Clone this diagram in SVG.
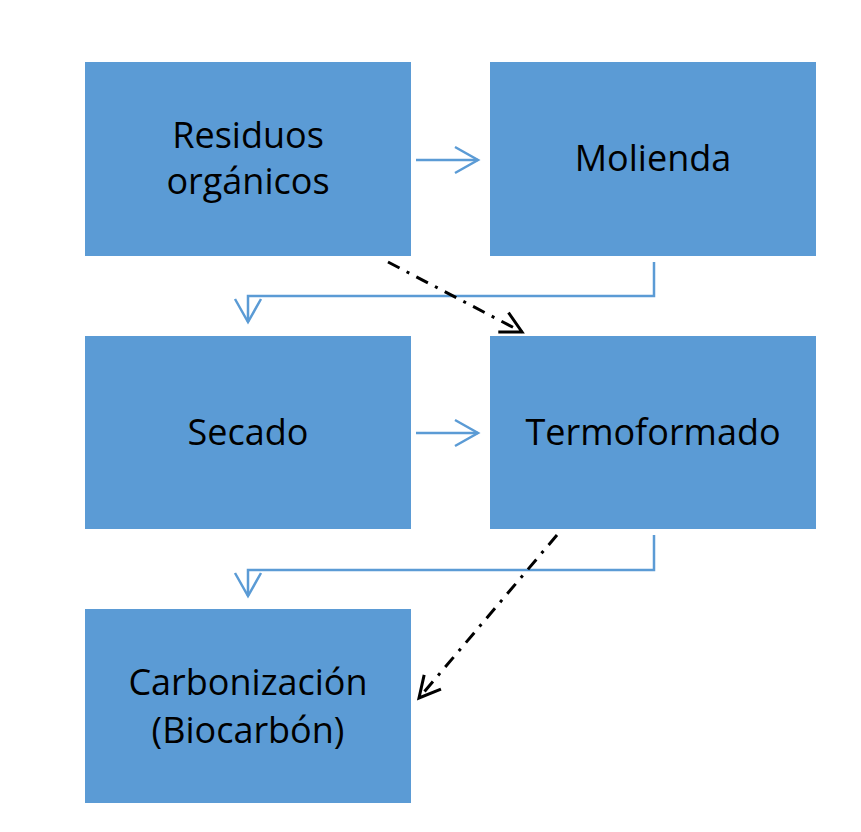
<svg xmlns="http://www.w3.org/2000/svg" width="861" height="832" viewBox="0 0 861 832">
<defs>
<style>
.box{fill:#5B9BD5;}
.lbl{font-family:"Open Sans","Noto Sans",sans-serif;font-size:36px;fill:#000;text-anchor:middle;}
.blue{stroke:#5B9BD5;stroke-width:2.5;fill:none;}
.dd{stroke:#000;stroke-width:3;fill:none;stroke-dasharray:13 8 3 8;}
</style>
<marker id="ab" viewBox="0 0 30 30" refX="27" refY="15" markerWidth="30" markerHeight="30" markerUnits="userSpaceOnUse" orient="auto">
<path d="M4,2 L27,15 L4,28" fill="none" stroke="#5B9BD5" stroke-width="2.5"/>
</marker>
<marker id="ak" viewBox="0 0 30 30" refX="27" refY="15" markerWidth="30" markerHeight="30" markerUnits="userSpaceOnUse" orient="auto">
<path d="M6,4 L27,15 L6,26" fill="none" stroke="#000" stroke-width="3"/>
</marker>
</defs>
<rect width="861" height="832" fill="#fff"/>
<g id="residuos"><rect class="box" x="85" y="62" width="326" height="194"/>
<text class="lbl" x="248" y="148">Residuos</text><text class="lbl" x="248" y="194">orgánicos</text></g>
<g id="molienda"><rect class="box" x="490" y="62" width="326" height="194"/>
<text class="lbl" x="653" y="171">Molienda</text></g>
<g id="secado"><rect class="box" x="85" y="336" width="326" height="193"/>
<text class="lbl" x="248" y="445">Secado</text></g>
<g id="termoformado"><rect class="box" x="490" y="336" width="326" height="193"/>
<text class="lbl" x="653" y="445">Termoformado</text></g>
<g id="carbonizacion"><rect class="box" x="85" y="609" width="326" height="194"/>
<text class="lbl" x="248" y="695">Carbonización</text><text class="lbl" x="248" y="743">(Biocarbón)</text></g>
<g id="connectors">
<path class="blue" d="M416,160 H478" marker-end="url(#ab)"/>
<path class="blue" d="M416,433 H478" marker-end="url(#ab)"/>
<path class="blue" d="M654,262 V296 H248 V322" marker-end="url(#ab)"/>
<path class="blue" d="M654,535 V570 H248 V596" marker-end="url(#ab)"/>
<path class="dd" d="M388,262 L522,332" marker-end="url(#ak)"/>
<path class="dd" d="M557,535 L419,698" marker-end="url(#ak)"/>
</g>
</svg>
